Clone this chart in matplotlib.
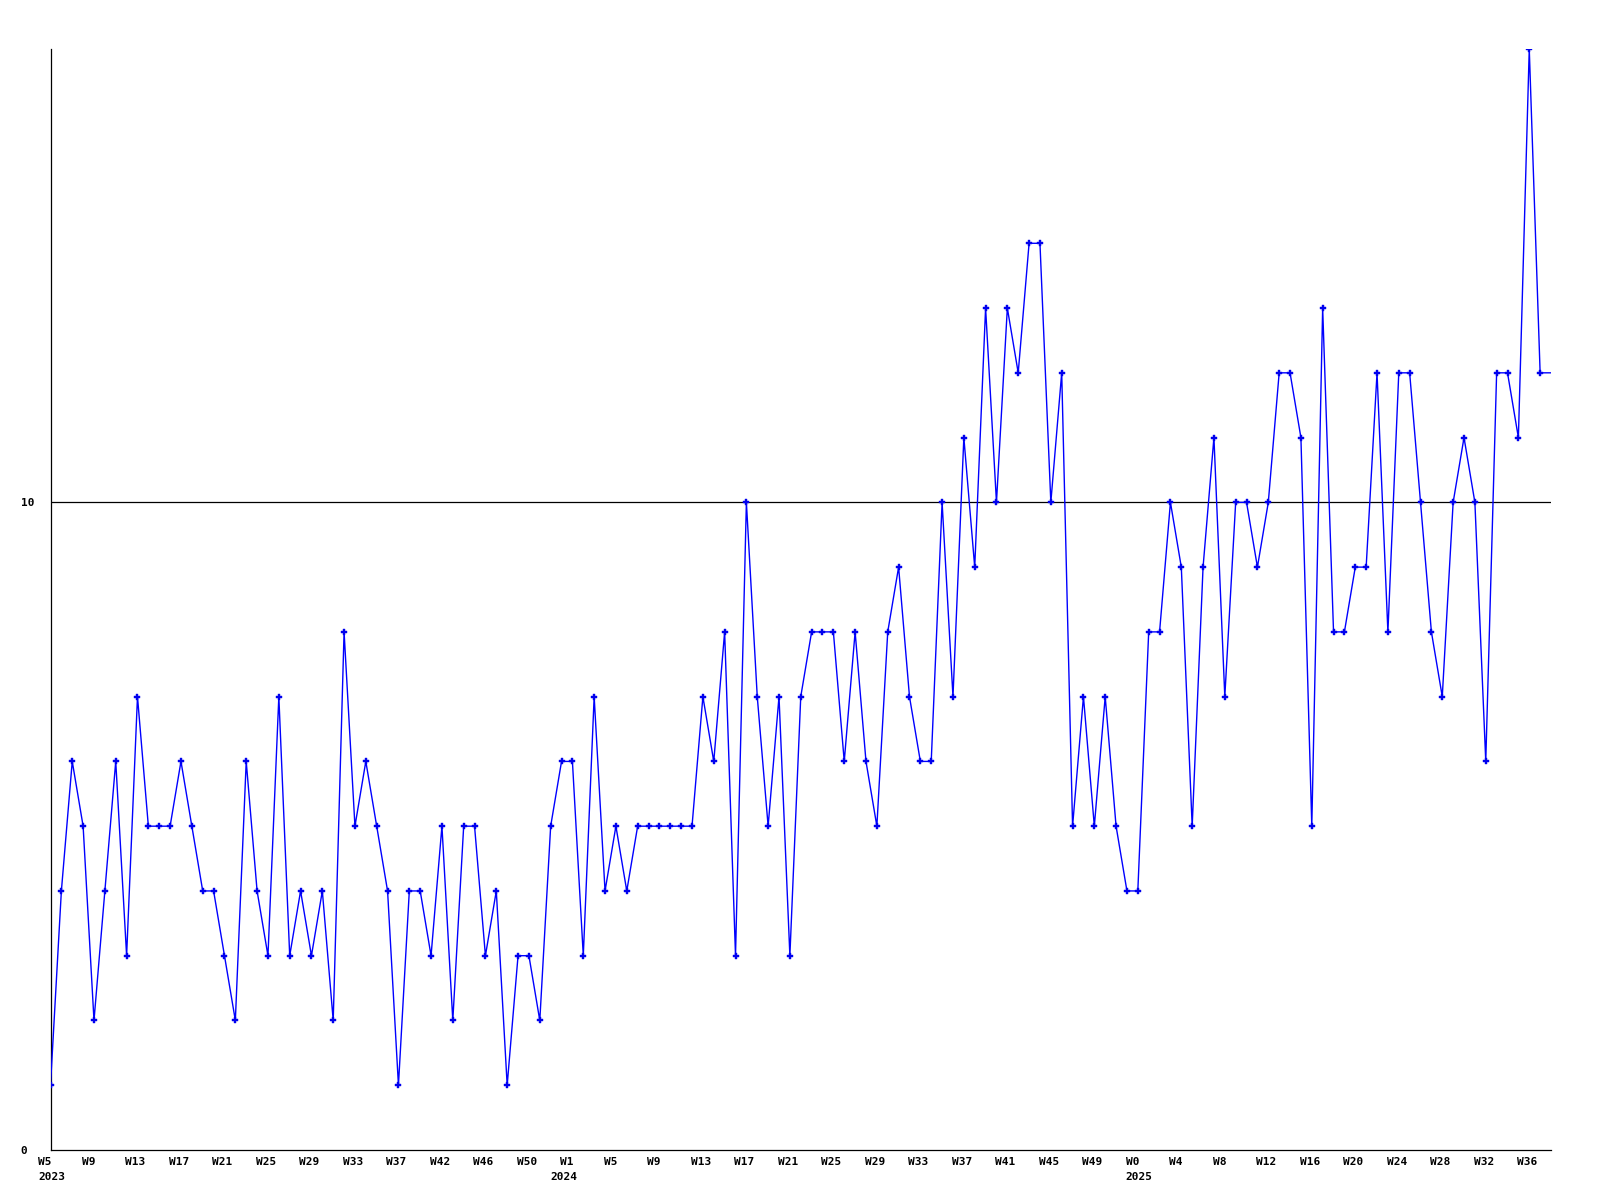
import matplotlib
matplotlib.use("Agg")
import matplotlib.pyplot as plt
from matplotlib.transforms import ScaledTranslation

# weekly counts, one per point (last one sits on the right edge, no marker)
values = [1, 4, 6, 5, 2, 4, 6, 3, 7, 5,
          5, 5, 6, 5, 4, 4, 3, 2, 6, 4,
          3, 7, 3, 4, 3, 4, 2, 8, 5, 6,
          5, 4, 1, 4, 4, 3, 5, 2, 5, 5,
          3, 4, 1, 3, 3, 2, 5, 6, 6, 3,
          7, 4, 5, 4, 5, 5, 5, 5, 5, 5,
          7, 6, 8, 3, 10, 7, 5, 7, 3, 7,
          8, 8, 8, 6, 8, 6, 5, 8, 9, 7,
          6, 6, 10, 7, 11, 9, 13, 10, 13, 12,
          14, 14, 10, 12, 5, 7, 5, 7, 5, 4,
          4, 8, 8, 10, 9, 5, 9, 11, 7, 10,
          10, 9, 10, 12, 12, 11, 5, 13, 8, 8,
          9, 9, 12, 8, 12, 12, 10, 8, 7, 10,
          11, 10, 6, 12, 12, 11, 17, 12, 12]

week_labels = ["W5", "W9", "W13", "W17", "W21", "W25", "W29", "W33",
               "W37", "W42", "W46", "W50", "W1", "W5", "W9", "W13",
               "W17", "W21", "W25", "W29", "W33", "W37", "W41", "W45", "W49",
               "W0", "W4", "W8", "W12", "W16", "W20", "W24", "W28",
               "W32", "W36"]
label_step = 4
years = ["2023", "2024", "2025"]
year_index = [0, 48, 100]      # point where each year label sits
year_shift = [0, -10, 0]       # pixel nudge of the year text
ref_level = 10

font = {"family": "DejaVu Sans Mono", "weight": "bold", "size": 8}

fig = plt.figure(figsize=(16, 12), dpi=100)
ax = fig.add_axes([50.5 / 1600, 1 - 1150 / 1200, (1551 - 50.5) / 1600, (1150 - 49) / 1200])

x = list(range(len(values)))
ax.plot(x, values, color="#0000ff", lw=1.0, marker="P", ms=4.5,
        mfc="#0000ee", mec="#0000ee", mew=0.3,
        markevery=list(range(len(values) - 1)), zorder=3)
ax.axhline(ref_level, color="black", lw=0.9, zorder=2)

ax.set_xlim(0, len(values) - 1)
ax.set_ylim(0, 17)

ax.spines["top"].set_visible(False)
ax.spines["right"].set_visible(False)
for s in ("left", "bottom"):
    ax.spines[s].set_linewidth(0.9)
    ax.spines[s].set_color("black")

ax.set_xticks(list(range(0, len(week_labels) * label_step, label_step)))
ax.set_xticklabels(week_labels, fontdict=font)
ax.set_yticks([0, ref_level])
ax.set_yticklabels(["0", "10"], fontdict=font)
ax.tick_params(axis="both", length=0)
ax.tick_params(axis="x", pad=5)
ax.tick_params(axis="y", pad=0)

shift_x = ScaledTranslation(-12 / 100, 0, fig.dpi_scale_trans)
for lab in ax.get_xticklabels():
    lab.set_horizontalalignment("left")
    lab.set_transform(lab.get_transform() + shift_x)

shift_y = ScaledTranslation(-30 / 100, 0, fig.dpi_scale_trans)
for lab in ax.get_yticklabels():
    lab.set_horizontalalignment("left")
    lab.set_transform(lab.get_transform() + shift_y)

for yr, idx, dx in zip(years, year_index, year_shift):
    ax.annotate(yr, xy=(idx, 0), xycoords=("data", "axes fraction"),
                xytext=(-12 + dx, -26.5), textcoords="offset pixels",
                ha="left", va="center", annotation_clip=False, **font)

fig.savefig("out.png", dpi=100, facecolor="white")
plt.close(fig)
